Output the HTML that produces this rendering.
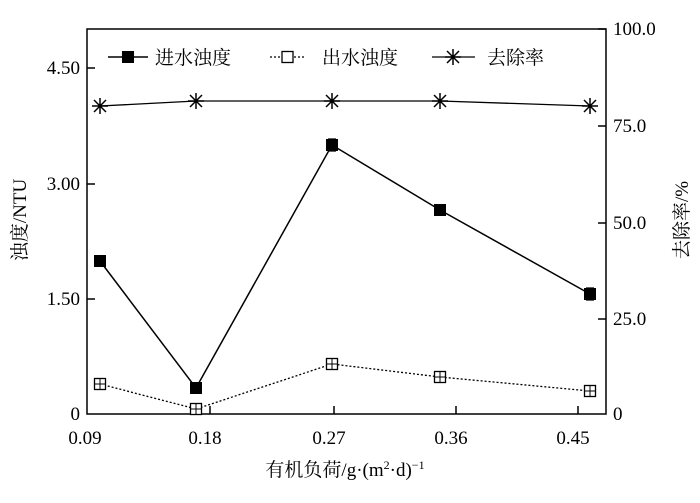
<!DOCTYPE html>
<html><head><meta charset="utf-8"><style>
body{margin:0;background:#fff}
svg text{font-family:"Liberation Serif","Noto Serif CJK SC",serif;fill:#000}
</style></head><body>
<svg width="700" height="498" viewBox="0 0 700 498" xmlns="http://www.w3.org/2000/svg">
<defs>
<g id="fs"><rect x="-6" y="-6" width="12" height="12" fill="#000"/></g>
<g id="os"><rect x="-5.5" y="-5.5" width="11" height="11" fill="#fff" stroke="#000" stroke-width="1.3"/><path d="M-5.5 0H5.5M0 -5.5V5.5" stroke="#000" stroke-width="1"/></g>
<g id="st" stroke="#000" stroke-width="1.5"><path d="M-8 0H8M0 -8V8M-6 -6L6 6M-6 6L6 -6"/></g>
</defs>
<rect x="87" y="29" width="519" height="385" fill="none" stroke="#000" stroke-width="1.5"/>
<g stroke="#000" stroke-width="1.5">
<path d="M87 68H95M87 184H95M87 299H95"/>
<path d="M606 29H598M606 126H598M606 223H598M606 319H598"/>
<path d="M210 414V406M334 414V406M456 414V406M578 414V406"/>
</g>
<g font-size="19" text-anchor="end">
<text x="80" y="74">4.50</text><text x="80" y="190">3.00</text><text x="80" y="305">1.50</text><text x="80" y="420">0</text>
</g>
<g font-size="19">
<text x="613" y="35">100.0</text><text x="613" y="132">75.0</text><text x="613" y="229">50.0</text><text x="613" y="325">25.0</text><text x="613" y="420">0</text>
</g>
<g font-size="19" text-anchor="middle">
<text x="85" y="444">0.09</text><text x="205" y="444">0.18</text><text x="329" y="444">0.27</text><text x="451" y="444">0.36</text><text x="573" y="444">0.45</text>
</g>
<text x="345" y="476" font-size="19" text-anchor="middle">有机负荷/g·(m<tspan font-size="12" dy="-7">2</tspan><tspan dy="7">·d)</tspan><tspan font-size="12" dy="-7">−1</tspan></text>
<text transform="translate(26,220) rotate(-90)" font-size="19" text-anchor="middle">浊度/NTU</text>
<text transform="translate(688,220) rotate(-90)" font-size="19" text-anchor="middle">去除率/%</text>
<polyline points="100,106 196,101 332,101 440,101 590,106" fill="none" stroke="#000" stroke-width="1.3"/>
<use href="#st" x="100" y="106"/><use href="#st" x="196" y="101"/><use href="#st" x="332" y="101"/><use href="#st" x="440" y="101"/><use href="#st" x="590" y="106"/>
<polyline points="100,261 196,388 332,145 440,210 590,294" fill="none" stroke="#000" stroke-width="1.5"/>
<path d="M332 139V151M328 139H336M328 151H336M590 288V300M586 288H594M586 300H594" stroke="#000" stroke-width="1.2"/>
<use href="#fs" x="100" y="261"/><use href="#fs" x="196" y="388"/><use href="#fs" x="332" y="145"/><use href="#fs" x="440" y="210"/><use href="#fs" x="590" y="294"/>
<polyline points="100,384 196,409 332,364 440,377 590,391" fill="none" stroke="#000" stroke-width="1.3" stroke-dasharray="2,2"/>
<use href="#os" x="100" y="384"/><use href="#os" x="196" y="409"/><use href="#os" x="332" y="364"/><use href="#os" x="440" y="377"/><use href="#os" x="590" y="391"/>
<path d="M108 57H148" stroke="#000" stroke-width="1.5"/><use href="#fs" x="128" y="57"/>
<text x="155" y="64" font-size="19">进水浊度</text>
<path d="M270 57H304" stroke="#000" stroke-width="1.3" stroke-dasharray="2,2"/><rect x="282" y="51.5" width="11" height="11" fill="#fff" stroke="#000" stroke-width="1.3"/>
<text x="322" y="64" font-size="19">出水浊度</text>
<path d="M432 57H475" stroke="#000" stroke-width="1.3"/><use href="#st" x="453" y="57"/>
<text x="487" y="64" font-size="19">去除率</text>
</svg>
</body></html>
